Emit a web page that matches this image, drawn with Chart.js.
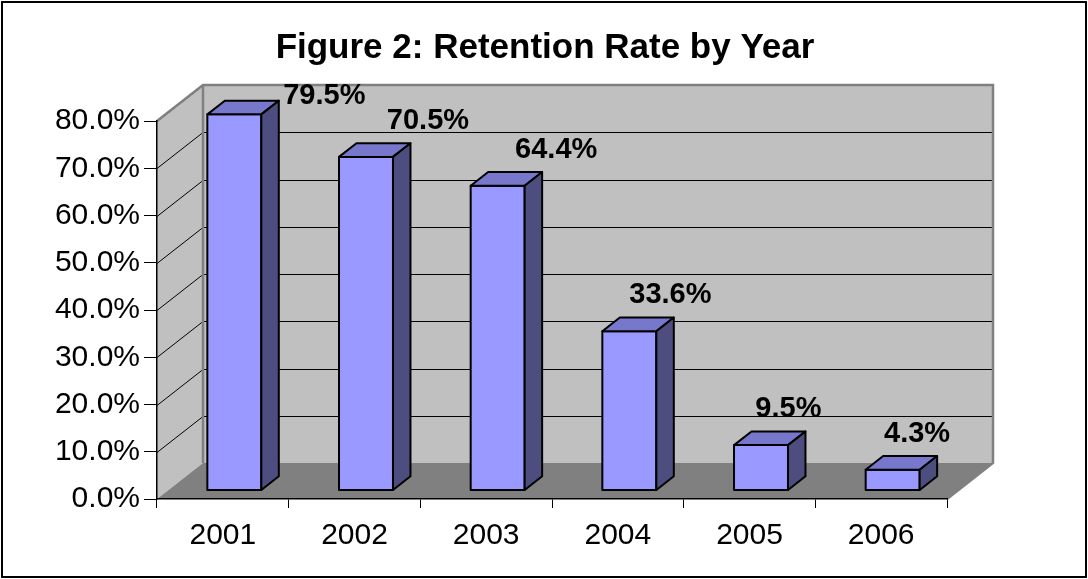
<!DOCTYPE html>
<html>
<head>
<meta charset="utf-8">
<script src="https://cdn.jsdelivr.net/npm/chart.js@4.4.1/dist/chart.umd.min.js"></script>
<style>
    html, body { margin: 0; padding: 0; background: #fff; }
    #wrap { width: 1088px; height: 579px; }
</style>
</head>
<body>
<div id="wrap"><canvas id="retention-chart" width="1088" height="579"></canvas></div>
<script>
// Chart data
const chartTitle = 'Figure 2: Retention Rate by Year';
const years = ['2001', '2002', '2003', '2004', '2005', '2006'];
const retention = [79.5, 70.5, 64.4, 33.6, 9.5, 4.3];
const yMin = 0;
const yMax = 80;
const yStep = 10;

// 3D look (Excel style box)
const DX = 46, DY = -36;          // depth of the box
const BAR_NEAR = 0.25, BAR_FAR = 0.63;
const FONT = "'Liberation Sans', Arial, sans-serif";

Chart.defaults.font.family = FONT;
Chart.defaults.color = '#000';

const box3d = {
    id: 'box3d',
    beforeDraw(chart) {
        const ctx = chart.ctx;
        const x = chart.scales.x, y = chart.scales.y;
        const L = x.left, R = x.right;
        const T = y.getPixelForValue(yMax), B = y.getPixelForValue(yMin);

        ctx.save();
        ctx.fillStyle = '#fff';
        ctx.fillRect(0, 0, chart.width, chart.height);

        // title
        ctx.fillStyle = '#000';
        ctx.font = 'bold 35px ' + FONT;
        ctx.textAlign = 'center';
        ctx.textBaseline = 'alphabetic';
        ctx.fillText(chartTitle, 545, 58);

        // back wall
        ctx.fillStyle = '#C0C0C0';
        ctx.fillRect(L + DX, T + DY, R - L, B - T);
        // left wall
        ctx.beginPath();
        ctx.moveTo(L, T); ctx.lineTo(L + DX, T + DY);
        ctx.lineTo(L + DX, B + DY); ctx.lineTo(L, B);
        ctx.closePath();
        ctx.fill();
        // floor
        ctx.fillStyle = '#808080';
        ctx.beginPath();
        ctx.moveTo(L, B); ctx.lineTo(L + DX, B + DY);
        ctx.lineTo(R + DX, B + DY); ctx.lineTo(R, B);
        ctx.closePath();
        ctx.fill();

        // grid lines on back and left wall
        ctx.strokeStyle = '#000';
        ctx.lineWidth = 1;
        for (let v = yMin + yStep; v <= yMax; v += yStep) {
            const py = Math.round(y.getPixelForValue(v)) + 0.5;
            ctx.beginPath();
            ctx.moveTo(L + DX, py + DY);
            ctx.lineTo(R + DX, py + DY);
            ctx.moveTo(L, py);
            ctx.lineTo(L + DX, py + DY);
            ctx.stroke();
        }

        // wall outlines
        ctx.strokeStyle = '#808080';
        ctx.lineWidth = 2.5;
        ctx.beginPath();
        ctx.moveTo(L, T); ctx.lineTo(L + DX, T + DY);
        ctx.lineTo(R + DX, T + DY); ctx.lineTo(R + DX, B + DY);
        ctx.lineTo(R, B);
        ctx.moveTo(L + DX, T + DY); ctx.lineTo(L + DX, B + DY);
        ctx.stroke();
        ctx.restore();
    },
    afterDatasetsDraw(chart) {
        const ctx = chart.ctx;
        const y = chart.scales.y;
        const meta = chart.getDatasetMeta(0);
        const ddx = DX * (BAR_FAR - BAR_NEAR), ddy = DY * (BAR_FAR - BAR_NEAR);

        ctx.save();
        ctx.lineWidth = 2;
        ctx.lineJoin = 'round';
        ctx.strokeStyle = '#000';
        meta.data.forEach((el, i) => {
            const v = retention[i];
            const x0 = el.x - el.width / 2 + DX * BAR_NEAR;
            const x1 = x0 + el.width;
            const yb = y.getPixelForValue(0) + DY * BAR_NEAR;
            const yt = y.getPixelForValue(v) + DY * BAR_NEAR;

            // front
            ctx.fillStyle = '#9999FF';
            ctx.beginPath();
            ctx.rect(x0, yt, x1 - x0, yb - yt);
            ctx.fill(); ctx.stroke();
            // top
            ctx.fillStyle = '#7777CC';
            ctx.beginPath();
            ctx.moveTo(x0, yt); ctx.lineTo(x0 + ddx, yt + ddy);
            ctx.lineTo(x1 + ddx, yt + ddy); ctx.lineTo(x1, yt);
            ctx.closePath();
            ctx.fill(); ctx.stroke();
            // side
            ctx.fillStyle = '#4D4D80';
            ctx.beginPath();
            ctx.moveTo(x1, yt); ctx.lineTo(x1 + ddx, yt + ddy);
            ctx.lineTo(x1 + ddx, yb + ddy); ctx.lineTo(x1, yb);
            ctx.closePath();
            ctx.fill(); ctx.stroke();

            // data label
            const h = yb - yt;
            let lx = (x0 + x1) / 2 + 22 + 0.12 * h;
            let ly = yt - 36;
            if (ly < 96) {
                lx += (96 - ly) * 1.3;
                ly = 96;
            }
            ctx.fillStyle = '#000';
            ctx.font = 'bold 29px ' + FONT;
            ctx.textAlign = 'center';
            ctx.textBaseline = 'middle';
            ctx.fillText(v.toFixed(1) + '%', lx, ly);
        });
        ctx.restore();
    },
    afterDraw(chart) {
        const ctx = chart.ctx;
        ctx.save();
        ctx.strokeStyle = '#000';
        ctx.lineWidth = 2;
        ctx.strokeRect(2, 2, chart.width - 4, chart.height - 4);
        ctx.restore();
    }
};

new Chart(document.getElementById('retention-chart').getContext('2d'), {
    type: 'bar',
    data: {
        labels: years,
        datasets: [{
            label: 'Retention Rate',
            data: retention,
            backgroundColor: 'rgba(0,0,0,0)',
            borderWidth: 0,
            barPercentage: 0.41,
            categoryPercentage: 1
        }]
    },
    options: {
        responsive: false,
        devicePixelRatio: 1,
        animation: false,
        layout: {
            padding: { left: 0, right: 141, top: 121, bottom: 0 }
        },
        plugins: {
            legend: { display: false },
            tooltip: { enabled: false },
            title: { display: false }
        },
        scales: {
            x: {
                afterFit: (s) => { s.height = 80; },
                grid: {
                    offset: true,
                    drawOnChartArea: false,
                    tickLength: 9,
                    color: '#000'
                },
                border: { color: '#000', width: 1.5 },
                ticks: {
                    color: '#000',
                    padding: 10,
                    font: { size: 30 }
                }
            },
            y: {
                min: yMin,
                max: yMax,
                afterFit: (s) => { s.width = 157; },
                grid: {
                    drawOnChartArea: false,
                    tickLength: 13,
                    color: '#000'
                },
                border: { color: '#000', width: 1.5 },
                ticks: {
                    stepSize: yStep,
                    color: '#000',
                    padding: 4,
                    font: { size: 30 },
                    callback: (value) => value.toFixed(1) + '%'
                }
            }
        }
    },
    plugins: [box3d]
});
</script>
</body>
</html>
